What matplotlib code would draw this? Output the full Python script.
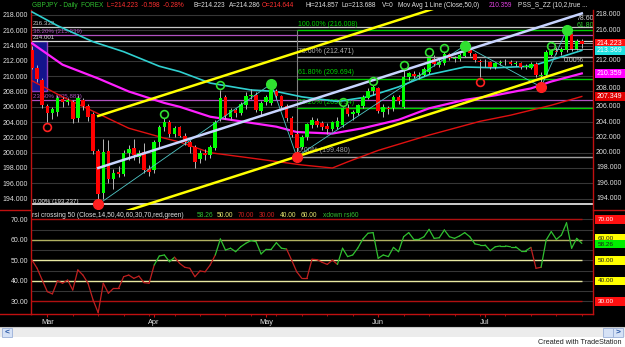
import numpy as np
import pandas as pd
import matplotlib.pyplot as plt
from matplotlib.patches import Rectangle
from matplotlib.lines import Line2D

plt.rcParams['font.family'] = ['Liberation Sans', 'DejaVu Sans']

W, H = 625, 347

# GBPJPY daily bars, 27 Feb - 28 Jul 2008
dates = pd.bdate_range('2008-02-27', '2008-07-28')
opens = [213.4, 211.1, 209.5, 206.1, 205.2, 205.3, 207.0, 206.6, 206.6, 204.5,
         206.9, 206.1, 205.0, 200.2, 194.7, 200.2, 196.5, 197.5, 197.2, 199.9,
         200.6, 199.4, 200.1, 197.9, 197.8, 201.4, 203.3, 204.0, 202.4, 203.3,
         202.2, 201.4, 200.7, 199.2, 199.9, 199.7, 200.6, 204.4, 207.3, 204.7,
         205.6, 205.2, 206.2, 207.4, 207.6, 205.5, 206.6, 206.5, 208.0, 207.4,
         206.1, 204.5, 202.5, 200.8, 202.0, 203.6, 204.2, 203.9, 203.5, 203.1,
         203.4, 203.6, 205.9, 205.0, 205.2, 206.1, 207.2, 208.0, 208.4, 205.3,
         205.9, 205.8, 207.3, 206.0, 209.9, 210.3, 210.0, 210.2, 210.6, 212.3,
         211.5, 211.7, 212.9, 212.3, 212.3, 212.7, 213.4, 212.9, 212.0, 211.8,
         211.8, 211.2, 211.7, 211.8, 211.9, 211.6, 211.7, 211.2, 211.1, 211.6,
         210.0, 210.2, 212.8, 213.3, 213.1, 213.4, 215.5, 213.6, 214.644]
highs = [214.0, 211.5, 209.8, 206.4, 206.0, 207.6, 207.3, 207.1, 206.9, 207.6,
         207.1, 206.3, 205.3, 200.5, 201.8, 201.7, 197.9, 198.2, 200.4, 201.0,
         201.8, 200.3, 201.3, 198.4, 201.7, 203.6, 204.5, 204.3, 203.5, 203.5,
         202.6, 201.7, 201.0, 200.3, 200.5, 201.0, 204.3, 208.2, 207.6, 205.9,
         205.9, 206.6, 207.9, 208.3, 207.9, 206.8, 207.6, 209.0, 208.3, 207.6,
         206.4, 204.8, 202.9, 202.3, 203.9, 204.6, 204.5, 204.2, 203.9, 204.2,
         204.6, 206.0, 206.3, 205.6, 206.4, 207.6, 208.4, 208.8, 208.6, 206.4,
         206.1, 207.6, 207.5, 210.9, 210.6, 210.7, 210.5, 211.2, 212.6, 212.8,
         212.2, 213.1, 213.0, 212.7, 213.0, 214.0, 213.6, 213.0, 212.3, 212.2,
         212.0, 211.9, 212.1, 212.2, 212.1, 212.0, 211.9, 211.6, 211.9, 211.8,
         210.6, 213.4, 213.4, 213.8, 213.8, 216.0, 215.7, 214.8, 214.857]
lows = [210.9, 209.3, 205.8, 204.0, 204.4, 204.8, 206.0, 206.2, 203.9, 204.0,
        205.6, 204.1, 199.8, 193.237, 194.0, 196.0, 195.3, 196.8, 196.9, 199.0,
        199.1, 198.6, 197.3, 197.0, 197.4, 200.8, 202.8, 202.1, 202.1, 202.0,
        201.0, 199.9, 198.0, 198.6, 199.0, 199.3, 200.3, 204.1, 204.4, 204.3,
        204.7, 204.9, 205.7, 207.0, 205.3, 204.9, 206.2, 206.2, 207.0, 205.8,
        204.2, 202.0, 199.48, 200.5, 201.6, 203.2, 203.3, 203.0, 202.5, 202.9,
        203.1, 203.4, 204.8, 204.3, 204.9, 205.9, 207.0, 207.6, 205.2, 204.7,
        205.0, 205.5, 206.4, 205.8, 209.5, 209.8, 209.6, 210.0, 210.3, 211.3,
        211.2, 211.5, 212.1, 211.9, 212.0, 212.5, 212.7, 211.8, 209.9, 211.2,
        211.0, 210.9, 211.4, 211.5, 211.4, 211.3, 211.0, 210.9, 210.9, 209.9,
        208.6, 210.0, 212.6, 212.9, 212.8, 213.2, 213.3, 213.4, 213.688]
closes = [211.1, 209.6, 206.2, 205.2, 205.7, 207.1, 206.6, 206.9, 204.4, 207.2,
          206.1, 204.6, 200.2, 194.6, 200.1, 196.5, 197.4, 197.2, 200.0, 200.5,
          199.7, 200.0, 197.7, 197.5, 201.4, 203.3, 204.0, 202.4, 203.2, 202.2,
          201.4, 200.7, 198.8, 199.9, 199.7, 200.7, 204.0, 207.2, 204.8, 205.6,
          205.2, 206.3, 207.4, 207.6, 205.6, 206.5, 207.3, 208.2, 207.4, 206.1,
          204.5, 202.3, 200.6, 202.0, 203.7, 204.3, 203.6, 203.4, 203.1, 204.0,
          204.1, 205.8, 205.0, 205.3, 206.2, 207.3, 208.1, 208.6, 205.5, 206.0,
          205.7, 207.3, 206.7, 209.9, 210.4, 210.0, 210.1, 210.9, 212.4, 211.6,
          211.9, 212.9, 212.4, 212.4, 212.8, 213.5, 213.0, 212.1, 211.8, 211.9,
          211.2, 211.7, 211.9, 211.9, 211.6, 211.7, 211.2, 211.3, 211.6, 210.1,
          210.2, 213.2, 213.3, 213.1, 213.6, 215.6, 213.6, 214.6, 214.223]

# moving averages, read at a few bars
cyan_bars = [0, 5, 12, 18, 25, 29, 35, 43, 48, 53, 60, 66, 72, 78, 85, 91, 98, 101, 108]
cyan_vals = [218.4, 216.6, 214.5, 213.2, 211.3, 210.6, 209.1, 208.2, 208.0, 207.3,
             206.7, 207.3, 208.6, 210.2, 211.2, 211.1, 211.3, 211.9, 213.369]
mag_bars = [0, 6, 13, 19, 26, 29, 35, 41, 48, 52, 59, 65, 72, 78, 85, 91, 98, 102, 108]
mag_vals = [214.3, 211.5, 209.7, 208.0, 206.5, 206.0, 204.7, 204.1, 203.4, 202.7,
            202.5, 203.2, 204.3, 205.8, 206.9, 207.5, 208.4, 209.3, 210.359]
red_bars = [0, 6, 13, 19, 26, 29, 35, 43, 53, 59, 62, 68, 78, 88, 94, 102, 108]
red_vals = [209.4, 207.3, 205.1, 203.2, 201.9, 201.4, 200.0, 199.3, 198.4, 198.0,
            198.8, 200.3, 202.3, 204.1, 204.9, 206.2, 207.349]

# trend channel (yellow) and centre line (lavender)
chan_bars = [13, 108]
chan_upper = [204.8, 225.0]
chan_mid = [198.0, 218.2]
chan_lower = [191.2, 211.4]

# zig-zag swing line
zz_bars = [13, 47, 52, 85, 100, 105]
zz_vals = [193.237, 209.0, 199.48, 214.0, 208.6, 216.0]

# PSS swing markers
pss_hi = [26, 37, 61, 67, 73, 78, 81, 102]
pss_top = [47, 85, 105]
pss_lo = [3, 88]
pss_bot = [13, 52, 100]

# fib retracement from the May low
fib_bar = 52
fib_levels = [216.008, 212.471, 209.694, 205.794, 199.480]
fib_labels = ['100.00% (216.008)', '78.60% (212.471)', '61.80% (209.694)',
              '38.20% (205.794)', '0.00% (199.480)']
fib_colors = ['#00d000', '#b0b0b0', '#00d000', '#00d000', '#a0a0a0']

# older fib drawn from the Feb box (full width)
old_levels = [216.4, 215.339, 214.65, 206.9, 193.237]
old_labels = ['216.339', '38.20% (215.339)', '214.001', '23.60% (205.883)', '0.00% (193.237)']
old_colors = ['#c8c8c8', '#b050c0', '#d8d8d8', '#b050c0', '#f0f0f0']
box_bars = [-0.2, 2.95]
box_prices = [208.0, 214.65]

price_tags = [214.223, 213.369, 210.359, 207.349]
price_tag_colors = ['#ff1010', '#20e0e0', '#ff00ff', '#e00000']

# RSI(14)
rsi = [50.1, 46.1, 40.4, 34.7, 33.6, 40.0, 38.8, 40.4, 35.5, 45.3,
       42.8, 38.8, 30.6, 24.4, 38.8, 33.9, 36.3, 36.3, 42.0, 42.8,
       41.2, 42.3, 39.1, 38.8, 47.7, 52.1, 52.6, 49.3, 51.5, 48.5,
       46.6, 46.1, 42.0, 44.8, 44.4, 47.7, 52.6, 60.4, 55.0, 55.9,
       54.2, 56.6, 58.3, 59.6, 59.1, 53.1, 55.4, 55.4, 58.6, 55.9,
       55.5, 50.1, 44.4, 41.2, 41.2, 50.5, 50.3, 49.0, 48.0, 50.1,
       48.0, 55.9, 51.8, 52.6, 56.0, 60.4, 63.2, 63.5, 51.0, 52.6,
       51.8, 56.3, 54.2, 61.5, 63.5, 60.2, 60.2, 61.5, 65.1, 60.7,
       61.0, 64.8, 61.5, 60.7, 61.9, 63.5, 61.5, 58.0, 57.5, 57.5,
       54.7, 56.6, 57.0, 57.0, 56.6, 56.6, 54.7, 54.7, 56.3, 46.1,
       46.6, 59.9, 64.0, 60.2, 62.3, 68.3, 55.9, 60.7, 58.26]
rsi_green = [(25, 28), (37, 50), (61, 98), (101, 108)]
rsi_levels = [70, 60, 50, 40, 30]
rsi_level_colors = ['#b01010', '#b0b060', '#e8e8a0', '#e8e8a0', '#b01010']
rsi_tags = ['70.00', '60.00', '58.26', '50.00', '40.00', '30.00']
rsi_tag_vals = [70, 60.6, 57.9, 50, 40, 30]
rsi_tag_colors = ['#ff1010', '#ffff00', '#00f000', '#ffff00', '#ffff00', '#ff1010']


def frame(x0, y0, x1, y1):
    return [x0 / W, 1 - y1 / H, (x1 - x0) / W, (y1 - y0) / H]


fig = plt.figure(figsize=(W / 100, H / 100), dpi=100, facecolor='black')
ax = fig.add_axes(frame(31, 10, 593, 210), facecolor='black')
rx = fig.add_axes(frame(31, 210, 593, 314), facecolor='black')
SPINE = '#c01010'
FS = 5

for a in (ax, rx):
    a.set_xlim(-0.2, 110.2)
    for s in a.spines.values():
        s.set_color(SPINE)
        s.set_linewidth(1)
    a.spines['top'].set_visible(False)
ax.spines['bottom'].set_visible(False)

# ---------------- price panel ----------------
ax.set_ylim(192.51, 218.65)
ax.set_yticks(range(194, 219, 2))
ax.set_yticklabels(['%.3f' % v for v in range(194, 219, 2)])
ax.tick_params(axis='y', length=0, labelleft=True, labelright=False, labelsize=FS,
               labelcolor='#e0e0e0', pad=2.2)
ax.tick_params(axis='x', length=0, labelbottom=False)
ax.grid(axis='y', color='#363636', lw=0.8)
ax.set_axisbelow(True)

# right scale: the levels hidden behind the value tags are left out
for v in range(194, 219, 2):
    if v in (214, 210):
        continue
    ax.text(1.0055, v + (0.35 if v == 208 else 0), '%.3f' % v, transform=ax.get_yaxis_transform(),
            color='#e0e0e0', fontsize=FS, va='center', ha='left', clip_on=False)

ax.add_patch(Rectangle((box_bars[0], box_prices[0]), box_bars[1] - box_bars[0],
                       box_prices[1] - box_prices[0], fc='#14148c', ec='#9040c0', lw=1, zorder=1.5))

for lev, lab, col in zip(old_levels, old_labels, old_colors):
    ax.axhline(lev, color=col, lw=1.2 if lev < 194 else 0.9, zorder=2)
    ax.text(0.003, lev + 0.12, lab, transform=ax.get_yaxis_transform(), color=col,
            fontsize=4.4, va='bottom', ha='left', zorder=2)

ax.vlines(fib_bar, fib_levels[-1], fib_levels[0], color='#808080', lw=0.8, zorder=2)
for lev, lab, col in zip(fib_levels, fib_labels, fib_colors):
    ax.hlines(lev, fib_bar, 110.2, color=col, lw=1.0, zorder=2)
    ax.text(fib_bar + 0.3, lev + 0.3, lab, color=col, fontsize=FS, va='bottom', ha='left', zorder=2)

# small fib set at the right edge
ax.text(107.0, 217.6, '78.60', color='#d0d0d0', fontsize=FS, va='center', zorder=2, clip_on=True)
ax.text(107.0, 216.6, '61.80', color='#30d030', fontsize=FS, va='center', zorder=2, clip_on=True)
ax.text(104.5, 212.0, '0.00%', color='#d0d0d0', fontsize=FS, va='center', zorder=2, clip_on=True)
ax.hlines([214.3, 213.6], 102, 110.2, color='#a0a0a0', lw=0.7, zorder=2)

# moving averages
ax.plot(red_bars, red_vals, color='#e01010', lw=1.0, zorder=3)
ax.plot(mag_bars, mag_vals, color='#ff20ff', lw=1.6, zorder=3)
ax.plot(cyan_bars, cyan_vals, color='#30d0d0', lw=1.2, zorder=3)

# candles
x = np.arange(len(closes))
o, h, l, c = map(np.array, (opens, highs, lows, closes))
up = c >= o
ax.vlines(x, l, h, color='#b8b8b8', lw=0.7, zorder=4)
body = np.maximum(np.abs(c - o), 0.1)
ax.bar(x[up], body[up], bottom=o[up], width=0.7, color='#00ff00', lw=0, zorder=5)
ax.bar(x[~up], body[~up], bottom=c[~up], width=0.7, color='#ff0000', lw=0, zorder=5)

# zig-zag and channel
ax.plot(zz_bars, zz_vals, color='#50c8c8', lw=0.6, zorder=6)
ax.plot(chan_bars, chan_upper, color='#ffff00', lw=1.8, zorder=6)
ax.plot(chan_bars, chan_lower, color='#ffff00', lw=1.8, zorder=6)
ax.plot(chan_bars, chan_mid, color='#c8d4ff', lw=1.8, zorder=6)

# PSS markers
ax.plot(pss_hi, h[pss_hi] + 0.6, 'o', ms=5.6, mfc='none', mec='#30e030', mew=1.2, zorder=7)
ax.plot(pss_top, h[pss_top], 'o', ms=7.0, mfc='#30e030', mec='#30e030', zorder=7)
ax.plot(pss_lo, l[pss_lo] - 0.6, 'o', ms=5.6, mfc='none', mec='#ff2020', mew=1.2, zorder=7)
ax.plot(pss_bot, l[pss_bot], 'o', ms=7.0, mfc='#ff2020', mec='#ff2020', zorder=7, clip_on=True)

tag_w = 30 / 562
for v, col in zip(price_tags, price_tag_colors):
    ax.add_patch(Rectangle((1.0036, v - 0.6), tag_w, 1.2, transform=ax.get_yaxis_transform(),
                           fc=col, ec='none', clip_on=False, zorder=10))
    ax.text(1.006, v, '%.3f' % v, transform=ax.get_yaxis_transform(), color='white',
            fontsize=FS, va='center', ha='left', clip_on=False, zorder=11)

# ---------------- RSI panel ----------------
rx.set_ylim(23.8, 74.54)
rx.set_yticks(rsi_levels)
rx.set_yticklabels(['%.2f' % v for v in rsi_levels])
rx.tick_params(axis='y', length=0, labelsize=FS, labelcolor='#e0e0e0', pad=2.2)
for g in (35, 45, 55, 65, 30, 40, 50, 60, 70):
    rx.axhline(g, color='#363636', lw=0.8, zorder=1)
rx.hlines(rsi_levels, -0.2, 108.1, colors=rsi_level_colors, lw=1.0, zorder=2)

for i in range(1, len(rsi)):
    green = any(a <= i <= b for a, b in rsi_green)
    rx.plot([i - 1, i], [rsi[i - 1], rsi[i]], color='#30c030' if green else '#c02020',
            lw=0.9, zorder=3, solid_capstyle='round')

rtag_h = 8.5 / 2.05
for k, (lab, v, col) in enumerate(zip(rsi_tags, rsi_tag_vals, rsi_tag_colors)):
    rx.add_patch(Rectangle((1.0036, v - rtag_h / 2), tag_w, rtag_h, transform=rx.get_yaxis_transform(),
                           fc=col, ec='none', clip_on=False, zorder=10 + 2 * k))
    rx.text(1.008, v, lab, transform=rx.get_yaxis_transform(),
            color='white' if col == '#ff1010' else '#202020',
            fontsize=4.6, va='center', ha='left', clip_on=False, zorder=11 + 2 * k)

rsi_title = [('rsi crossing 50 (Close,14,50,40,60,30,70,red,green)', 32, '#e0e0e0'),
             ('58.26', 197, '#30c030'), ('50.00', 217, '#e8e870'), ('70.00', 238, '#d02020'),
             ('30.00', 259, '#d02020'), ('40.00', 280, '#e8e870'), ('60.00', 301, '#e8e870'),
             ('xdown rsi60', 323, '#30c030')]
for t, px, col in rsi_title:
    fig.text(px / W, 1 - 215.5 / H, t, color=col, fontsize=4.8, va='center', ha='left')

# date axis
month_pos = [i for i in range(1, len(dates)) if dates[i].month != dates[i - 1].month]
week_pos = [i for i in range(len(dates)) if dates[i].weekday() == 0]
rx.set_xticks(month_pos)
rx.set_xticklabels([dates[i].strftime('%b') for i in month_pos])
rx.set_xticks(week_pos, minor=True)
rx.tick_params(axis='x', which='major', length=2.5, color=SPINE, labelsize=5.3,
               labelcolor='#e0e0e0', pad=1)
rx.tick_params(axis='x', which='minor', length=1.5, color=SPINE)

# ---------------- header ----------------
title_parts = [('GBPJPY - Daily  FOREX', 32, '#30c030'),
               ('L=214.223  -0.598  -0.28%', 107, '#ff3030'),
               ('B=214.223', 193, '#e0e0e0'), ('A=214.286', 229, '#e0e0e0'),
               ('O=214.644', 262, '#ff3030'), ('Hi=214.857', 305, '#e0e0e0'),
               ('Lo=213.688', 342, '#e0e0e0'), ('V=0', 382, '#e0e0e0'),
               ('Mov Avg 1 Line (Close,50,0)', 398, '#e0e0e0'),
               ('210.359', 489, '#e040e0'), ('PSS_S_ZZ (10,2,true ...', 518, '#e0e0e0')]
for t, px, col in title_parts:
    fig.text(px / W, 1 - 5.5 / H, t, color=col, fontsize=4.7, va='center', ha='left')

# panel separators in the label columns
for xs, ys in (([0, 31], [210, 210]), ([593, 625], [210, 210]), ([0, 31], [314, 314])):
    fig.add_artist(Line2D([v / W for v in xs], [1 - v / H for v in ys], color=SPINE, lw=1))

# scroll bar and footer
fig.add_artist(Rectangle((0, 0), 1, 1 - 337 / H, transform=fig.transFigure, fc='white', ec='none'))
fig.add_artist(Rectangle((0, 1 - 337 / H), 1, 10 / H, transform=fig.transFigure, fc='#ececec', ec='none'))
fig.add_artist(Line2D([0, 1], [1 - 327 / H] * 2, color='#c8c8c8', lw=0.8))
for bx in (2, 603, 613):
    fig.add_artist(Rectangle((bx / W, 1 - 337 / H), 10 / W, 9 / H, transform=fig.transFigure,
                             fc='#d6e2f6', ec='#9ab0d8', lw=0.6))
fig.text(7 / W, 1 - 332.5 / H, '<', color='#2050a0', fontsize=6, weight='bold', ha='center', va='center')
fig.text(618 / W, 1 - 332.5 / H, '>', color='#2050a0', fontsize=6, weight='bold', ha='center', va='center')
fig.text(622 / W, 1 - 343 / H, 'Created with TradeStation', color='#202020', fontsize=5.2,
         ha='right', va='center')

fig.savefig('out.png', dpi=100, facecolor='black')
